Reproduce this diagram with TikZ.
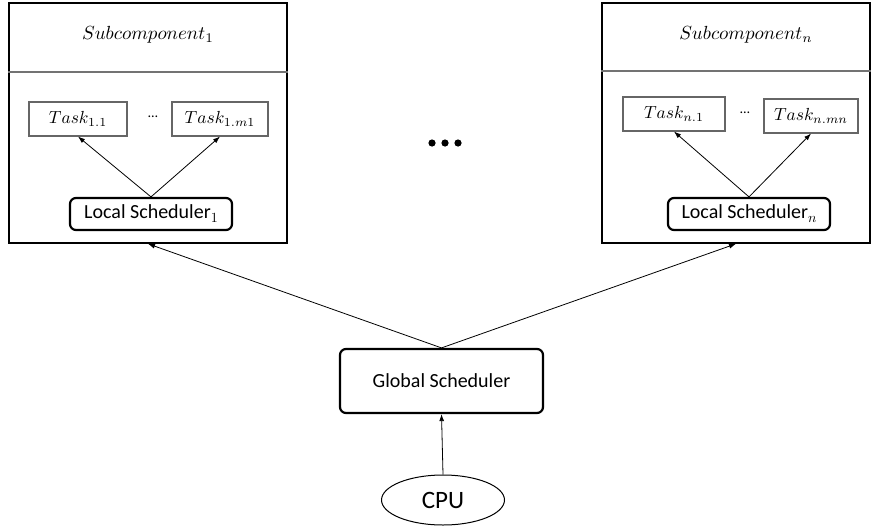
\documentclass[tikz,border=0pt]{standalone}
\usepackage{fontspec}
\setmainfont{Carlito}
\usetikzlibrary{arrows.meta,shapes.geometric}
\newcommand{\bigmath}[2]{\scalebox{#1}{$#2$}}
\newcommand{\lowsub}[1]{\raisebox{-4pt}{\fontsize{10}{12}\selectfont\scalebox{1.4}{$#1$}}}
\begin{document}
\begin{tikzpicture}[x=1pt,y=-1pt,
  outer/.style={draw, line width=1.6pt, inner sep=0pt},
  divider/.style={draw=black!55, line width=1.1pt},
  taskbox/.style={draw=black!60, line width=1.1pt, inner sep=0pt, minimum height=34pt},
  sched/.style={draw, line width=2.2pt, rounded corners=6pt, inner sep=0pt, font=\fontsize{20}{22}\selectfont},
  smalldots/.style={font=\fontsize{14}{16}\selectfont},
  conn/.style={-{Latex[length=7pt,width=5pt]}, line width=0.8pt}
]
\useasboundingbox (0,0) rectangle (872,527);

% left subcomponent
\node[outer, minimum width=278pt, minimum height=240pt] (sub1) at (148,123) {};
\draw[divider] (sub1.west |- 0,72) -- (sub1.east |- 0,72);
\node (t1) at (148,35) {\bigmath{1.9}{Subcomponent_1}};
\node[taskbox, minimum width=98pt] (task11) at (78,119) {\bigmath{1.75}{Task_{1.1}}};
\node[smalldots] (d1) at (153,117) {…};
\node[taskbox, minimum width=96pt] (task1m) at (220,119) {\bigmath{1.75}{Task_{1.m1}}};
\node[sched, minimum width=162pt, minimum height=32pt] (loc1) at (151,214) {Local Scheduler\lowsub{1}};
\draw[conn] (loc1.north) -- (task11.south);
\draw[conn] (loc1.north) -- (task1m.south);

% right subcomponent
\node[outer, minimum width=268pt, minimum height=240pt] (subn) at (736,123) {};
\draw[divider] (subn.west |- 0,71) -- (subn.east |- 0,71);
\node (tn) at (746,35) {\bigmath{1.9}{Subcomponent_n}};
\node[taskbox, minimum width=102pt] (taskn1) at (674,114) {\bigmath{1.75}{Task_{n.1}}};
\node[smalldots] (dn) at (745,113) {…};
\node[taskbox, minimum width=94pt] (tasknm) at (811,116) {\bigmath{1.75}{Task_{n.mn}}};
\node[sched, minimum width=162pt, minimum height=32pt] (locn) at (749,214) {Local Scheduler\lowsub{n}};
\draw[conn] (locn.north) -- (taskn1.south);
\draw[conn] (locn.north) -- (tasknm.south);

% big dots
\fill (432,143) circle (3.6pt) (445,143) circle (3.6pt) (458,143) circle (3.6pt);

% global
\node[sched, minimum width=203pt, minimum height=64pt] (glob) at (441.5,381) {Global Scheduler};
\node[draw, ellipse, line width=1pt, minimum width=123pt, minimum height=50pt, inner sep=0pt, font=\fontsize{25}{27}\selectfont] (cpu) at (443,500) {CPU};

\draw[conn] (glob.north) -- (sub1.south);
\draw[conn] (glob.north) -- (subn.south);
\draw[conn] (cpu.north) -- (glob.south);
\end{tikzpicture}
\end{document}
